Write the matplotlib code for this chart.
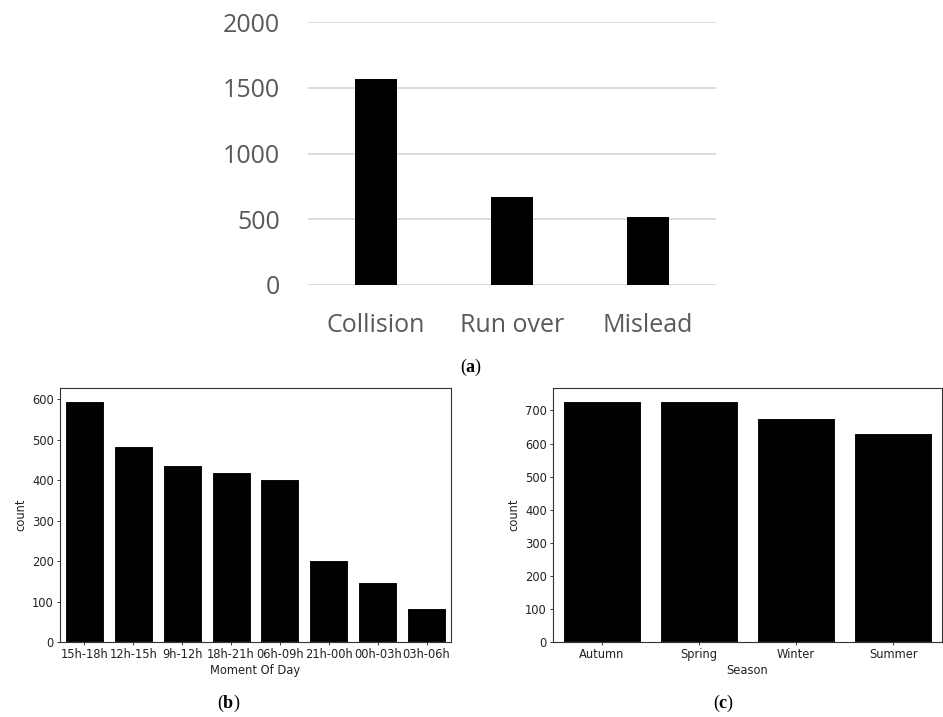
import matplotlib
matplotlib.use("Agg")
import matplotlib.pyplot as plt

# ---- data ----
types = ["Collision", "Run over", "Mislead"]
type_counts = [1565, 670, 517]

moments = ["15h-18h", "12h-15h", "9h-12h", "18h-21h", "06h-09h", "21h-00h", "00h-03h", "03h-06h"]
moment_counts = [597, 484, 438, 421, 402, 202, 148, 83]

seasons = ["Autumn", "Spring", "Winter", "Summer"]
season_counts = [730, 730, 676, 631]

plt.rcParams['mathtext.fontset'] = 'custom'
plt.rcParams['mathtext.rm'] = 'Liberation Serif'
plt.rcParams['mathtext.bf'] = 'Liberation Serif:bold'

fig = plt.figure(figsize=(9.43, 7.17), dpi=100)
W, H = 943, 717

def box(x0, y0, x1, y1):
    return [x0 / W, 1 - y1 / H, (x1 - x0) / W, (y1 - y0) / H]

# ---- (a) ----
axa = fig.add_axes(box(308, 22, 716, 285))
xa = range(len(types))
axa.bar(xa, type_counts, width=0.31, color="black", zorder=3)
axa.set_xlim(-0.5, len(types) - 0.5)
axa.set_ylim(0, 2000)
axa.set_yticks([0, 500, 1000, 1500, 2000])
axa.grid(axis="y", color="#d9d9d9", linewidth=1.3, zorder=0)
for s in axa.spines.values():
    s.set_visible(False)
axa.set_xticks(list(xa))
axa.set_xticklabels(types)
axa.tick_params(axis="both", length=0, labelsize=18, labelcolor="#595959")
axa.tick_params(axis="y", pad=20)
axa.tick_params(axis="x", pad=20)
for lab in axa.get_xticklabels() + axa.get_yticklabels():
    lab.set_fontfamily("Open Sans")
fig.text(471 / W, 1 - 367 / H, r"$\mathrm{(}\mathbf{a}\mathrm{)}$", ha="center", va="center", fontsize=13)

# ---- (b) and (c) ----
def small(ax, cats, vals, xlabel, ymax, yticks):
    x = range(len(cats))
    ax.bar(x, vals, width=0.8, color="black", edgecolor="white", linewidth=0.8)
    ax.set_xlim(-0.5, len(cats) - 0.5)
    ax.set_ylim(0, ymax)
    ax.set_yticks(yticks)
    ax.set_xticks(list(x))
    ax.set_xticklabels(cats)
    ax.tick_params(axis="both", labelsize=8.3, length=2.5, width=0.7, pad=2, colors="#333333", labelcolor="#222222")
    ax.set_xlabel(xlabel, fontsize=8.3, color="#222222", labelpad=2)
    ax.set_ylabel("count", fontsize=8.3, color="#222222", labelpad=3)
    for s in ax.spines.values():
        s.set_color("#333333")
        s.set_linewidth(0.8)

axb = fig.add_axes(box(60, 388, 451, 642))
small(axb, moments, moment_counts, "Moment Of Day", 628, [0, 100, 200, 300, 400, 500, 600])
fig.text(229 / W, 1 - 703 / H, r"$\mathrm{(}\mathbf{b}\mathrm{)}$", ha="center", va="center", fontsize=13)

axc = fig.add_axes(box(553, 388, 942, 642))
small(axc, seasons, season_counts, "Season", 768, [0, 100, 200, 300, 400, 500, 600, 700])
fig.text(724 / W, 1 - 703 / H, r"$\mathrm{(}\mathbf{c}\mathrm{)}$", ha="center", va="center", fontsize=13)

fig.savefig("out.png", dpi=100)
